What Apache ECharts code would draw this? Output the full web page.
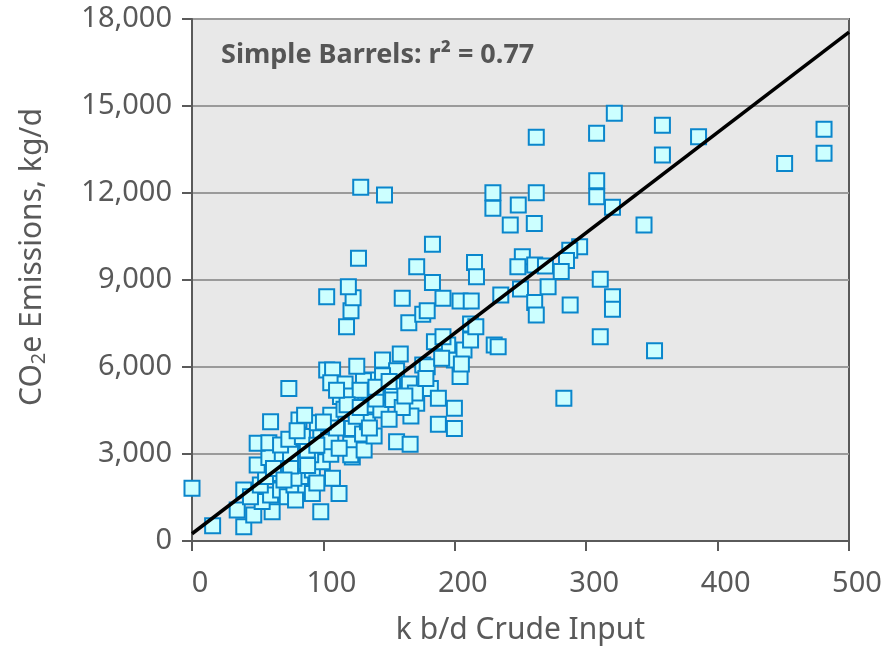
<!DOCTYPE html>
<html>
<head>
<meta charset="utf-8">
<script src="https://cdn.jsdelivr.net/npm/echarts@6/dist/echarts.min.js"></script>
<style>
html,body{margin:0;padding:0;background:#fff;}
#main{width:885px;height:651px;}
</style>
</head>
<body>
<div id="main"></div>
<script>
// Scatter data: crude input (k b/d) and CO2e emissions (kg/d)
var crudeInput = [
  0, 15.7, 39.4, 34.4, 47, 61, 53.4, 59.8, 67.4, 72.5, 77.6, 86.5, 91.6, 98, 111.9,
  39.4, 44.5, 52, 56, 67.4, 82.7, 77.6, 78.8, 106.9, 49.6, 58.5, 68.7, 75, 91.6, 99.2,
  90.3, 75, 87.8, 49.6, 58.5, 67.4, 73.7, 84, 98, 104, 105.6, 105.6, 120.8, 122, 120.8,
  131, 59.8, 81.4, 95.4, 85.7, 105.6, 73.7, 102.5, 107, 105.6, 116.5, 113, 120.8, 115.7, 122,
  129.8, 138.6, 133.6, 134.8, 143.7, 147.6, 136, 152.7, 152.6, 137.4, 130.5, 125.4, 145, 158.5, 155.7,
  165.4, 171, 166.6, 155.7, 166, 181.4, 187.5, 187.5, 199.7, 199.7, 175.6, 179, 199.7, 204, 207,
  194.6, 184.5, 191, 212, 230, 233, 212, 216, 165, 175.6, 179, 121, 117.6, 102.5, 122.6,
  119, 160, 191, 204, 212.5, 235, 183, 171, 215, 216.5, 126.7, 183, 128.4, 146.5, 229,
  229, 248.3, 242.2, 260.5, 262, 262, 307.9, 321.4, 308, 308, 320, 344, 295, 287.5, 285,
  281, 251.4, 248, 260.8, 269, 310.7, 271, 250, 260.8, 262, 287.8, 320, 320, 310.7, 283,
  352, 358, 358, 385.5, 451, 481, 481,
  110, 125, 140, 128, 145, 160, 170, 150, 118, 95, 88, 62, 70, 95, 80,
  112, 135, 162, 178, 190, 205, 140, 100, 110, 128, 150
];
var emissions = [
  1820, 530, 490, 1070, 900, 1010, 1360, 1590, 1760, 1530, 1930, 1870, 1640, 1010, 1640,
  1760, 1530, 1930, 2220, 2330, 2220, 2160, 1410, 2160, 2620, 2880, 2900, 2590, 2450, 2730,
  2970, 3020, 3140, 3370, 3390, 3310, 3510, 3600, 3730, 3480, 2990, 3420, 3340, 2900, 2970,
  3140, 4110, 4170, 4080, 4340, 4340, 5260, 5900, 5900, 5460, 5410, 4980, 5000, 4540, 3880,
  3690, 3620, 4110, 4690, 4520, 5090, 5030, 4880, 5380, 5550, 5530, 6030, 6240, 6450, 5870,
  5410, 4750, 4310, 3420, 3340, 5260, 4920, 4030, 4580, 3880, 6070, 6010, 6240, 5670, 6590,
  6760, 6870, 7040, 6930, 6760, 6700, 7480, 7390, 7530, 7820, 7940, 7940, 7390, 8420, 8390,
  8770, 8370, 8370, 8280, 8280, 8480, 8910, 9460, 9600, 9110, 9750, 10230, 12200, 11930, 12010,
  11470, 11590, 10900, 10950, 12010, 13920, 14060, 14750, 12420, 11870, 11510, 10900, 10150, 10030, 9670,
  9290, 9800, 9460, 9520, 9480, 9030, 8770, 8690, 8220, 7790, 8140, 8420, 7990, 7040, 4920,
  6560, 14340, 13310, 13940, 13020, 14200, 13370,
  3900, 4300, 4900, 5200, 5700, 4600, 5100, 4200, 4700, 3300, 2600, 2500, 2100, 2000, 3800,
  3200, 3900, 5000, 5600, 6300, 6100, 5300, 4100, 5200, 4600, 5500
];
// Fitted regression line end points
var fitX = [0, 500];
var fitY = [250, 17550];
var yTicks = [0, 3000, 6000, 9000, 12000, 15000, 18000];
var xTicks = [0, 100, 200, 300, 400, 500];

var pts = crudeInput.map(function (x, i) { return [x, emissions[i]]; });
var fitLine = fitX.map(function (x, i) { return [x, fitY[i]]; });

var FONT = '"Noto Sans", "Open Sans", sans-serif';
var TXT = '#595959';
var chart = echarts.init(document.getElementById('main'), null, { renderer: 'canvas' });
chart.setOption({
  animation: false,
  backgroundColor: '#ffffff',
  grid: {
    left: 192, right: 36, top: 19, bottom: 110,
    show: true, backgroundColor: '#e8e8e8', borderColor: '#5a5a5a', borderWidth: 2
  },
  graphic: [{
    type: 'text', left: 221, top: 42, z: 10,
    style: { text: 'Simple Barrels: r\u00b2 = 0.77', font: 'bold 27px ' + FONT, fill: '#555555', letterSpacing: 0.6 }
  }],
  xAxis: {
    type: 'value', min: xTicks[0], max: xTicks[xTicks.length - 1], interval: 100,
    name: 'k b/d Crude Input', nameLocation: 'middle', nameGap: 74,
    nameTextStyle: { fontFamily: FONT, fontSize: 30, color: TXT },
    axisLine: { show: true, onZero: false, lineStyle: { color: '#5a5a5a', width: 2 } },
    axisTick: { show: true, inside: false, length: 10, lineStyle: { color: '#5a5a5a', width: 2 } },
    axisLabel: { fontFamily: FONT, fontSize: 29, color: TXT, margin: 28, padding: [0, 0, 0, 16] },
    splitLine: { show: false }
  },
  yAxis: {
    type: 'value', min: yTicks[0], max: yTicks[yTicks.length - 1], interval: 3000,
    name: 'CO{sub|2}e Emissions, kg/d', nameLocation: 'middle', nameGap: 143,
    nameTextStyle: {
      fontFamily: FONT, fontSize: 30, color: TXT, padding: [0, 0, 0, 46],
      rich: { sub: { fontFamily: FONT, fontSize: 20, color: TXT, verticalAlign: 'bottom', padding: [14, 0, 0, 0] } }
    },
    axisLine: { show: true, lineStyle: { color: '#5a5a5a', width: 2 } },
    axisTick: { show: true, inside: false, length: 10, lineStyle: { color: '#5a5a5a', width: 2 } },
    axisLabel: {
      fontFamily: FONT, fontSize: 29, color: TXT, margin: 20,
      formatter: function (v) { return v.toLocaleString('en-US'); }
    },
    splitLine: { show: true, lineStyle: { color: '#9a9a9a', width: 2 } }
  },
  series: [{
    type: 'scatter', data: pts, symbol: 'rect', symbolSize: 15,
    itemStyle: { color: '#ccffff', borderColor: '#0a86cc', borderWidth: 2, opacity: 1 },
    z: 2
  }, {
    type: 'line', data: fitLine, symbol: 'none', z: 3,
    lineStyle: { color: '#000000', width: 3.5 }
  }]
});
</script>
</body>
</html>
